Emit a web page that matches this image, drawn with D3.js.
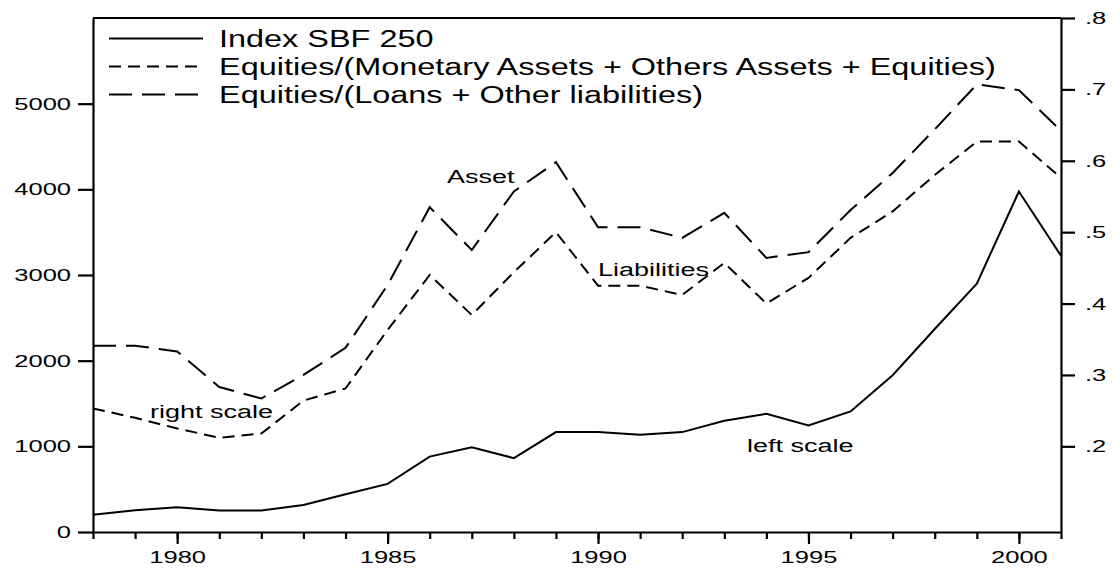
<!DOCTYPE html>
<html>
<head>
<meta charset="utf-8">
<script src="https://cdn.jsdelivr.net/npm/d3@7"></script>
<style>
  body { margin: 0; background: #fff; }
  text { font-family: Arial, "Liberation Sans", sans-serif; fill: #000; }
</style>
</head>
<body>
<svg id="chart" width="1113" height="570"></svg>
<script>
const years = d3.range(1978, 2002);
const sbf250 = [200, 255, 290, 250, 250, 316, 440, 561, 880, 990, 862, 1166,
  1166, 1135, 1166, 1298, 1380, 1243, 1407, 1830, 2370, 2900, 3975, 3225];
const monetaryRatio = [0.253, 0.240, 0.225, 0.212, 0.218, 0.264, 0.281, 0.363,
  0.440, 0.384, 0.444, 0.500, 0.425, 0.425, 0.412, 0.457, 0.400, 0.436, 0.492,
  0.529, 0.580, 0.627, 0.627, 0.576];
const loansRatio = [0.341, 0.341, 0.333, 0.283, 0.267, 0.300, 0.338, 0.426,
  0.535, 0.475, 0.557, 0.598, 0.507, 0.507, 0.492, 0.527, 0.464, 0.472, 0.531,
  0.583, 0.644, 0.707, 0.699, 0.642];
const leftTicks = [0, 1000, 2000, 3000, 4000, 5000];
const rightTicks = [0.2, 0.3, 0.4, 0.5, 0.6, 0.7, 0.8];
const majorYears = [1980, 1985, 1990, 1995, 2000];
const legendLabels = [
  'Index SBF 250',
  'Equities/(Monetary Assets + Others Assets + Equities)',
  'Equities/(Loans + Other liabilities)'
];

const svg = d3.select('#chart');
const margin = {top: 18, right: 52, bottom: 38, left: 93};
const width = +svg.attr('width');
const height = +svg.attr('height');
const innerWidth = width - margin.left - margin.right;
const innerHeight = height - margin.top - margin.bottom;

// the source graph has horizontally stretched lettering
const widen = (sel, s) => sel.each(function() {
  const len = this.getComputedTextLength();
  d3.select(this)
    .attr('textLength', len * s)
    .attr('lengthAdjust', 'spacingAndGlyphs');
});

const x = d3.scaleLinear().domain([1978, 2001]).range([0, innerWidth]);
const yLeft = d3.scaleLinear().domain([0, 6000]).range([innerHeight, 0]);
const yRight = d3.scaleLinear().domain([0.08, 0.8]).range([innerHeight, 0]);

const g = svg.append('g')
  .attr('transform', `translate(${margin.left},${margin.top})`);

// frame top
g.append('line')
  .attr('x1', 0).attr('x2', innerWidth)
  .attr('y1', 0).attr('y2', 0)
  .attr('stroke', '#000').attr('stroke-width', 2);

const styleAxis = sel => {
  sel.selectAll('path.domain, .tick line').attr('stroke', '#000').attr('stroke-width', 2.2);
  sel.attr('font-size', null).attr('font-family', null);
};

// left axis
const leftG = g.append('g')
  .call(d3.axisLeft(yLeft).tickValues(leftTicks).tickSize(15).tickPadding(7).tickSizeOuter(0)
    .tickFormat(d3.format('d')))
  .call(styleAxis);
leftG.selectAll('.tick text')
  .style('font-size', '17px')
  .call(widen, 1.5);

// right axis
const rightG = g.append('g')
  .attr('transform', `translate(${innerWidth},0)`)
  .call(d3.axisRight(yRight).tickValues(rightTicks).tickSize(14).tickPadding(10).tickSizeOuter(0)
    .tickFormat(d => d3.format('.1f')(d).replace(/^0/, '')))
  .call(styleAxis);
rightG.selectAll('.tick text')
  .style('font-size', '17px')
  .call(widen, 1.5);

// bottom axis: minor ticks every year, major every 5
g.append('g')
  .attr('transform', `translate(0,${innerHeight})`)
  .call(d3.axisBottom(x).tickValues(years).tickSize(7).tickSizeOuter(0).tickFormat(''))
  .call(styleAxis);

const majorG = g.append('g')
  .attr('transform', `translate(0,${innerHeight})`)
  .call(d3.axisBottom(x).tickValues(majorYears).tickSize(12).tickFormat(d3.format('d')))
  .call(styleAxis);
majorG.select('.domain').remove();
majorG.selectAll('.tick text')
  .attr('y', 31).attr('dy', null)
  .style('font-size', '17px')
  .call(widen, 1.5);

// series
const series = [
  {values: sbf250, y: yLeft, dash: null},
  {values: monetaryRatio, y: yRight, dash: '12,7'},
  {values: loansRatio, y: yRight, dash: '23,10'}
];

series.forEach(s => {
  const line = d3.line()
    .x((d, i) => x(years[i]))
    .y(d => s.y(d));
  g.append('path')
    .datum(s.values)
    .attr('d', line)
    .attr('fill', 'none')
    .attr('stroke', '#000')
    .attr('stroke-width', 2)
    .attr('stroke-dasharray', s.dash);
});

// legend
const legend = svg.append('g');
legendLabels.forEach((label, i) => {
  const ly = 38.5 + i * 28;
  legend.append('line')
    .attr('x1', 109).attr('x2', 203)
    .attr('y1', ly).attr('y2', ly)
    .attr('stroke', '#000')
    .attr('stroke-width', 2)
    .attr('stroke-dasharray', series[i].dash);
  legend.append('text')
    .attr('x', 219)
    .attr('y', ly + 8.3)
    .style('font-size', '23px')
    .text(label)
    .call(widen, 1.41);
});

// annotations
const notes = [
  {text: 'Asset', x: 447, y: 183},
  {text: 'Liabilities', x: 598, y: 276},
  {text: 'right scale', x: 150, y: 418},
  {text: 'left scale', x: 747, y: 452}
];
svg.selectAll('.note').data(notes)
  .enter().append('text')
  .attr('class', 'note')
  .attr('x', d => d.x)
  .attr('y', d => d.y)
  .style('font-size', '18px')
  .text(d => d.text)
  .call(widen, 1.5);
</script>
</body>
</html>
